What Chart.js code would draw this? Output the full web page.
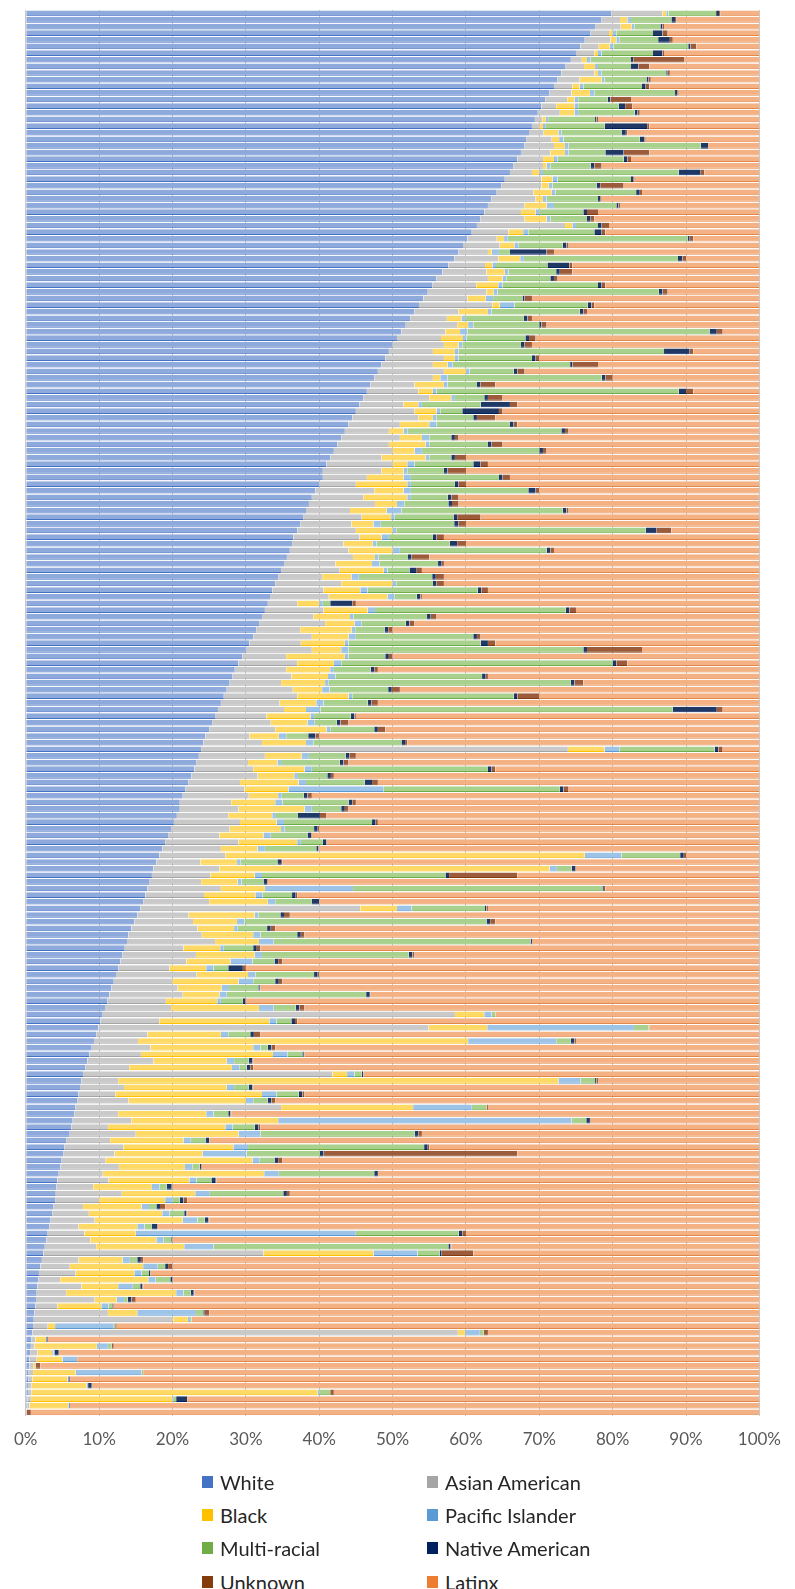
<!DOCTYPE html>
<html><head><meta charset="utf-8">
<script src="https://cdn.jsdelivr.net/npm/chart.js@4.4.0/dist/chart.umd.min.js"></script>
<style>
html,body{margin:0;padding:0;background:#fff;width:795px;height:1589px;overflow:hidden;font-family:Lato,'Open Sans',sans-serif;}
#c{position:absolute;left:0;top:0;}
.item{position:absolute;height:24px;display:flex;align-items:center;font-size:20px;color:#262626;white-space:nowrap;}
.sw{width:11px;height:12px;margin-right:7px;flex:none;}
</style></head>
<body>
<canvas id="c" width="795" height="1480"></canvas>
<div id="legend"></div>
<script>
const seriesNames = ['White','Asian American','Black','Pacific Islander','Multi-racial','Native American','Unknown','Latinx'];
const tickLabels = ['0%','10%','20%','30%','40%','50%','60%','70%','80%','90%','100%'];

const white = [
79.8,78.5,77.6,77,76.2,75.6,75,74.3,73.6,73,
72.5,72,71.4,70.8,70.3,69.8,69.4,69,68.6,68.2,
68,67.5,67,66.5,66,65.3,64.8,64.2,63.5,63,
62.5,62,61.5,60.8,60.2,59.6,59,58.4,57.6,56.8,
56,55.4,54.8,54.2,53.6,53,52.4,51.8,51.2,50.6,
50,49.5,49,48.5,48,47.5,47,46.5,46,45.5,
45,44.5,44,43.5,43,42.5,42,41.5,41,40.5,
40.5,40,39.5,39,38.6,38.2,37.8,37.4,37,36.5,
36.3,36,35.6,35.2,34.8,34.4,34,33.6,33.3,33,
32.6,32.2,31.8,31.4,31,30.5,30,29.5,29,28.5,
28.2,27.8,27.4,27,26.6,26.2,25.8,25.4,25,24.5,
24.2,23.9,23.6,23.3,23,22.6,22.2,21.8,21.4,21,
21,20.6,20.2,19.8,19.4,19,18.6,18.2,17.8,17.4,
17.2,16.9,16.6,16.3,16,15.6,15.2,14.8,14.4,14,
13.8,13.5,13.2,12.9,12.6,12.3,12,11.7,11.4,11.1,
10.8,10.5,10.2,9.9,9.6,9.3,9,8.7,8.4,8.1,
7.8,7.6,7.4,7.2,7,6.8,6.6,6.4,6.2,6,
5.5,5.3,5.1,4.9,4.7,4.5,4.3,4.2,4.1,4,
3.8,3.6,3.4,3.2,3,2.8,2.6,2.4,2.2,2,
1.8,1.7,1.6,1.5,1.4,1.3,1.2,1.1,1,0.9,
0.8,0.7,0.6,0.5,0.5,0.4,0.4,0.3,0.3,0.2,0.2,0.1];

const asian = [
7,2.5,3.5,2.5,3.5,2.5,2.5,1.5,2.5,4.5,
3,2.5,3,3,2,3,1,1,2,3.5,
4,4,3.5,4,3,5,5.5,5,6,5,
5,6,12,5,4,5,4,6,5,6,
7,6,8,6,10,6,5,7,6,6,
7,6,8,7,9,8,6,7,9,6,
8,9,7,6,8,7,8,7,9,8,
6,5,8,7,9,6,8,7,8,9,
7,8,9,7,8,6,9,7,8,4,
8,7,9,6,8,7,9,6,8,7,
8,7,9,10,8,9,7,8,9,6,
8,50,9,7,8,9,7,8,9,7,
8,7,9,8,7,10,8,9,6,9,
8,7,10,8,9,30,7,8,9,10,
12,8,10,9,7,11,8,9,10,8,
9,48,8,45,7,6,8,7,9,6,
34,5,6,5,7,28,6,8,5,9,
6,8,7,6,8,6,7,5,9,6,
4,5,6,4,5,6,7,30,5,4,
5,3,6,4,8,3,10,19,2,58,
0.5,0.5,1,1,0.5,0.6,0.5,0.5,0.5,0.5,0.3,0];

const black = [
0.5,1,1.5,0.5,0.8,1.5,0.5,0.7,1.5,0.5,
3,1,2.5,1,2.5,2,0.5,0.5,2,1,
1.5,2,1.5,0.5,1,1.5,1,2.5,1,3,
2,3,1,2,1,2,0.5,3,1,2.5,
2,3,1,2.5,1,4,2,1.5,2,3,
2,3,1.5,2,3,1,4,2,3,2,
3,2,4,2,3,5,3,6,2,3,
5,7,4,6,3,5,4,3,5,3,
4,6,3,5,6,4,7,5,8,3,
6,5,4,7,5,6,4,8,5,6,
5,6,4,7,5,3,6,5,7,4,
6,5,5,4,7,5,8,6,4,6,
9,6,5,7,6,8,5,49,5,45,
6,5,6,7,8,5,9,6,5,7,
6,5,8,6,5,7,9,6,5,7,
12,4,15,8,10,45,14,18,10,14,
2,60,14,20,16,18,12,20,16,14,
10,15,12,20,9,22,11,8,10,9,
8,10,12,8,7,9,12,15,6,10,
8,12,5,15,3,6,4,2,1,1,
1.5,8.5,2,3.5,0.3,5.8,4.8,7.5,39,19.3,5.3,0];

const pacific = [
0.3,0.5,0.4,0.5,0.4,0.5,0.5,0.5,0.4,0.5,
0.4,0.5,0.6,0.5,0.5,0.6,0.3,0.4,0.4,0.6,
0.5,0.5,0.5,0.5,0.5,0.7,0.5,0.5,0.5,1,
0.5,0.5,0.5,0.7,0.5,0.6,1,0.5,0.5,0.5,
0.5,0.6,0.5,1,2,0.5,0.5,0.7,1,0.5,
0.5,0.5,0.5,0.7,0.5,1,0.5,0.5,0.5,0.5,
0.5,0.5,1,0.5,1,0.5,1,0.5,1,0.5,
1,0.5,1,0.5,1,2,0.5,1,0.5,1,
0.5,1,0.5,1,0.5,1,0.5,1,1,0.5,
1,0.5,1,0.5,1,0.5,1,0.5,1,0.5,
1,0.5,1,0.5,1,2,0.5,1,0.5,1,
1,2,1,0.5,1,0.5,1,13,0.5,1,
1,0.5,1,0.5,1,0.5,1,5,0.5,1,
1,0.5,12,1,1,2,0.5,1,0.5,1,
2,0.5,1,3,1,1,2,1,1,0.5,
2,1,1,20,1,12,1,2,1,1,
1,3,1,2,1,8,1,40,1,3,
1,2,6,1,1,2,1,1,2,1,
1,1,2,1,30,1,4,6,1,2,
1,1,2,1,1,1,8,0.3,8,2,
0,1.5,0.2,2,0.1,9,0.1,0.2,0.2,0.2,0.1,0];

const multi = [
6.5,5.5,3.5,5,5.3,10.2,7,5.5,4.5,8.8,
5.7,8,11,4,5.5,7.6,6.4,8,8.2,10.4,
18,5,9,5.5,18.5,10,6,11,7,8.5,
6,5,3,9,24.5,6,1.5,21,7,6.5,
6,13,22,4,10,12,8,9,33,8,
8,28,10,16,6,21,4,33,4,8,
3,5,10,21,3,8,16,3,8,5,
12,6,16,5,6,22,8,10,34,6,
10,20,4,8,3,10,5,15,3,1,
26,10,6,4,16,18,32,5,37,5,
20,33,8,22,6,48,5,3,6,3,
12,13,5,8,24,4,8,24,3,9,
4,3,12,4,5,3,7,8,5,2,
25,3,34,4,5,10,3,33,4,5,
35,4,20,3,2,8,3,4,19,3,
3,0.5,2,2,3,2,1,2,2,1,
1,2,2,3,2,2,2,2,3,21,
2,24,10,2,1,13,2,1,10,1,
1,2,1,1,14,1,32,3,1,1,
1,2,1,1,0.5,0.5,1,0.2,0.2,0.5,
0,0.5,0.1,0,0,0.2,0,0,1.5,0.3,0,0];

const native = [
0.4,0.5,0.3,1.3,1.6,0.3,1.3,0.3,1,0.2,
0.3,0.5,0.3,0.4,0.9,0.4,0.2,5.8,0.6,0.6,
1,2.5,0.5,0.5,3,0.3,0.5,0.5,0.3,0.3,
0.5,0.5,0.5,1,0.3,0.5,5,0.6,3,0.5,
0.5,0.5,0.5,0.3,0.5,0.5,0.5,0.3,1,0.5,
0.5,3.5,0.5,0.3,0.5,0.5,0.5,1,0.5,4,
5,0.5,0.5,0.5,0.5,0.5,0.5,0.5,1,0.5,
0.5,0.5,1,0.5,0.5,0.5,0.5,0.6,1.5,0.5,
1,0.5,0.5,0.5,1,0.5,0.5,0.5,0.5,3,
0.5,0.5,0.5,0.5,0.5,1,0.5,0.5,0.5,0.5,
0.5,0.5,0.5,0.5,0.5,6,0.5,0.5,0.5,1,
0.5,0.5,0.5,0.5,0.5,0.5,1,0.5,0.5,0.5,
0.5,3,0.5,0.5,0.5,0.5,0.3,0.5,0.5,0.5,
0.5,0.5,0.2,0.5,1,0.2,0.5,0.5,0.5,0.5,
0.2,0.5,0.5,0.5,2,0.5,0.5,0.2,0.5,0.3,
0.5,0,0.5,0,0.5,0.5,0.5,0.2,0.5,0.5,
0.2,0.2,0.5,0.5,0.5,0,0.3,0.5,0.5,0.5,
0.5,0.5,0.5,0.5,0.2,0.5,0.6,0.7,0.5,0.5,
0.5,0.3,0.5,0.7,0.5,0.1,0.3,0.3,0.5,0.4,
0.2,0.3,0.3,0.4,0.5,0.1,0.2,0,0,0,
0.2,0,0.6,0,0,0,0.2,0.5,0,1.5,0.1,0];

const unknown = [
0.2,0.2,0.2,0.7,0.4,0.8,0.2,7,1.5,0.3,
0.3,0.5,0.2,2.8,1,0.3,0.2,0.3,0.2,0.2,
0,3.5,0.5,1,0.5,0.2,3.2,0.3,0.2,0.2,
1.5,0.5,1,0.5,0.5,0.3,1,0.5,0.4,1.7,
0.5,0.5,0.7,1,0.4,0.5,0.6,0.7,0.8,0.9,
1,0.5,0.5,3.5,1,1,2,1,2,1,
0.5,2.5,0.5,0.5,0.5,1.5,0.5,1.5,1,2.5,
1,1,0.5,1,0.9,0.3,3.2,1,2,1,
1.2,0.5,2.4,0.3,0.7,1.1,1,0.9,0.2,0.5,
0.9,0.8,0.7,0.6,0.5,1,7.5,0.5,1.5,0.5,
0.3,1.2,1.1,3,0.9,0.8,0.2,1.1,1,0.5,
0.3,0.6,0.9,0.7,0.5,0.4,0.8,0.7,0.6,0.5,
0.5,0.9,0.3,0.2,0.1,0,0.1,0.3,0.2,0.1,
9.3,0.1,0.2,0.2,0,0.2,0.8,0.7,0.6,0.5,
0,0.5,0.3,0.6,0.4,0.2,0.5,0.1,0.1,0.1,
0.7,0,0.3,0.1,0.9,0.2,0.5,0.1,0.1,0.4,
0,0.2,0.1,0.3,0.5,0.2,0.1,0.1,0.3,0.5,
0,0.2,26.4,0.6,0.1,0,0.1,0.1,0.4,0.5,
0.7,0.1,0.1,0.1,0.5,0.1,0.1,4.3,0.3,0.6,
0,0,0.1,0.1,0.6,0.1,0.6,0,0.2,0.6,
0,0.3,0,0,0.6,0,0,0,0.5,0,0,0.6];

const latinx = [
5.3,11.3,13,12.5,11.8,8.6,13,10.2,15,12.2,
14.8,15,11,17.5,17.3,16.3,22,15,18,15.5,
7,15,17.5,21.5,7.5,17,18.5,16,21.5,19,
22,22.5,20.5,21,9,26,28,10,25.5,25.5,
27.5,21,12.5,31,22.5,23.5,31,29,5,30.5,
31,9,30,22,32,20,36,9,35,33,
35,36,33,26,41,35,29,40,37,40,
34,40,30,41,41,26,38,40,12,43,
40,28,45,43,46,43,43,37,46,55,
25,44,47,50,38,36,16,50,18,52,
37,24,49,30,52,5,55,56,51,60,
48,5,55,56,36,58,52,26,61,55,
56,59,52,60,61,59,60,10,65,25,
33,67,21,63,60,37,64,36,66,62,
31,68,47,65,70,60,65,68,53,70,
62,36,63,15,68,25,66,62,69,69,
54,22,69,62,66,37,72,23,68,46,
75,45,33,65,76,52,74,80,64,78,
81,78,75,82,40,80,42,39,84,80,
83,80,84,77,85,88,75,77.4,87.6,37,
97,88,95.5,93,98,84,94,91,58,78,94,99.3];

const fills   = ['#8EA9DB','#C9C9C9','#FFD966','#9DC3E6','#A9D18E','#1F3864','#9C5B3A','#F4B183'];
const borders = ['#4472C4','#A5A5A5','#FFC000','#5B9BD5','#70AD47','#002060','#843C0C','#E2884A'];
const swatch  = ['#4472C4','#A5A5A5','#FFC000','#5B9BD5','#70AD47','#002060','#843C0C','#ED7D31'];

const raw = [white, asian, black, pacific, multi, native, unknown, latinx];
const categories = white.map((_, i) => 'Row ' + (i + 1));
const totals = categories.map((_, i) => raw.reduce((s, arr) => s + arr[i], 0));

const datasets = raw.map((arr, k) => ({
  label: seriesNames[k],
  data: arr.map((v, i) => v / totals[i] * 100),
  backgroundColor: fills[k],
  borderColor: borders[k],
  borderWidth: {top: 0, right: 0, bottom: 1, left: 0},
  borderSkipped: false,
  barPercentage: 0.86,
  categoryPercentage: 1.0
}));

new Chart(document.getElementById('c'), {
  type: 'bar',
  data: { labels: categories, datasets },
  options: {
    indexAxis: 'y',
    responsive: false,
    devicePixelRatio: 1,
    animation: false,
    layout: { padding: { left: 22, right: 20, top: 10, bottom: 16 } },
    plugins: { legend: { display: false }, tooltip: { enabled: false } },
    scales: {
      x: {
        stacked: true, min: 0, max: 100, z: 1,
        border: { display: false },
        grid: { color: 'rgba(60,60,60,0.28)', lineWidth: 1, drawTicks: false },
        ticks: {
          stepSize: 10, padding: 14, color: '#595959',
          font: { family: 'Lato', size: 17 },
          callback: (v) => tickLabels[Math.round(v / 10)]
        }
      },
      y: { stacked: true, display: false }
    }
  }
});

const lg = document.getElementById('legend');
const colX = [202, 427];
const rowY = [1482, 1515, 1548, 1582];
seriesNames.forEach((name, k) => {
  const d = document.createElement('div');
  d.className = 'item';
  d.style.left = colX[k % 2] + 'px';
  d.style.top = (rowY[Math.floor(k / 2)] - 12) + 'px';
  d.innerHTML = '<span class="sw" style="background:' + swatch[k] + '"></span><span>' + name + '</span>';
  lg.appendChild(d);
});
</script>
</body></html>
